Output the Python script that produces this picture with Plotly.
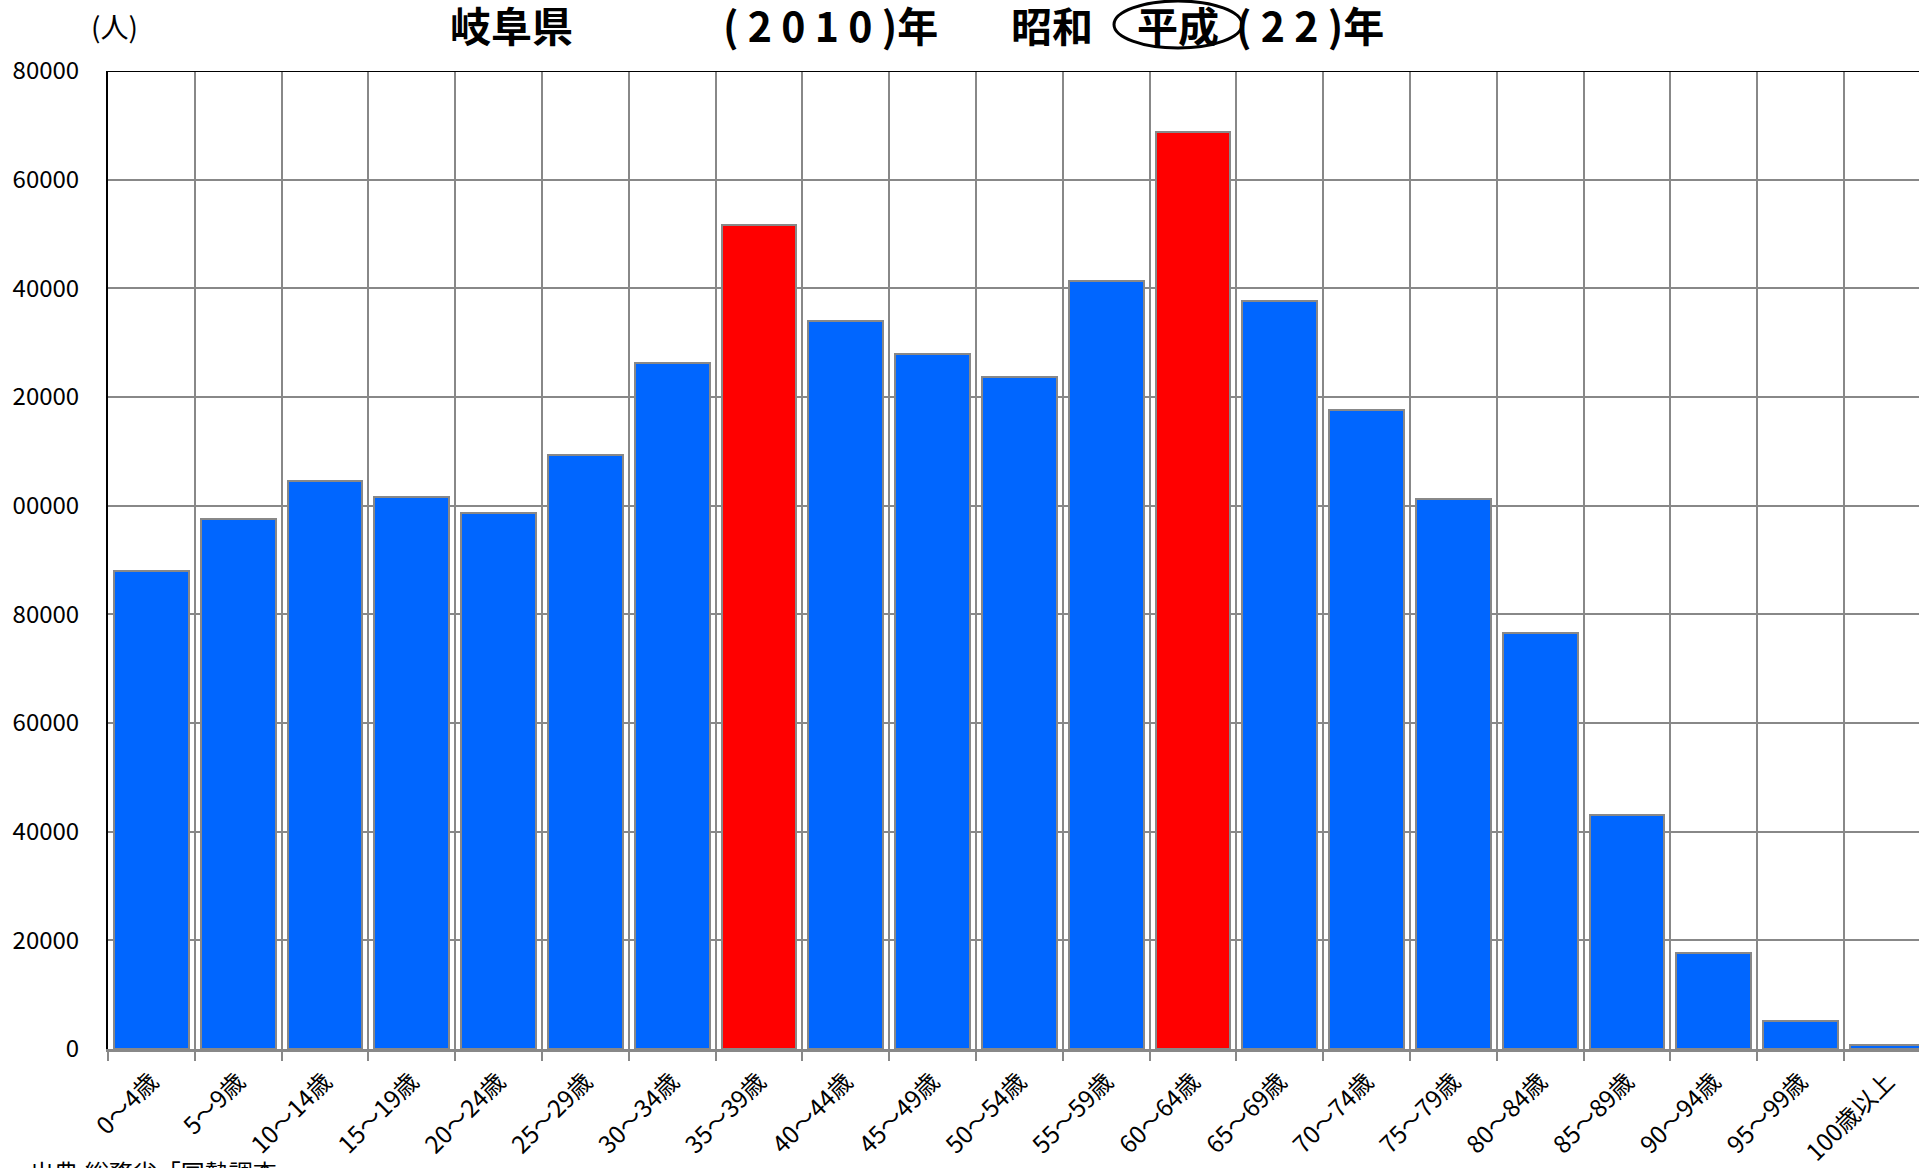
import plotly.graph_objects as go

categories = ["0〜4歳", "5〜9歳", "10〜14歳", "15〜19歳", "20〜24歳", "25〜29歳",
              "30〜34歳", "35〜39歳", "40〜44歳", "45〜49歳", "50〜54歳", "55〜59歳",
              "60〜64歳", "65〜69歳", "70〜74歳", "75〜79歳", "80〜84歳", "85〜89歳",
              "90〜94歳", "95〜99歳", "100歳以上"]
population = [88000, 97500, 104500, 101600, 98700, 109300, 126300, 151700, 133900,
              128000, 123700, 141400, 168800, 137600, 117700, 101300, 76600, 43100,
              17600, 5200, 700]
highlighted = ["35〜39歳", "60〜64歳"]
y_tickvals = [0, 20000, 40000, 60000, 80000, 100000, 120000, 140000, 160000, 180000]
y_ticktext = ["0", "20000", "40000", "60000", "80000", "00000", "20000", "40000", "60000", "80000"]

FONT = "Noto Sans CJK JP"
W, H = 1919, 1168
L, T, B = 108, 71, 119
PW = W - L
PH = H - T - B

def px(x):
    return (x - L) / PW

def py(y):
    return (H - B - y) / PH

colors = ["#FF0000" if c in highlighted else "#0066FF" for c in categories]

fig = go.Figure(go.Bar(
    x=categories, y=population,
    marker=dict(color=colors, line=dict(color="#888888", width=2)),
    width=0.86,
))

fig.update_layout(
    width=W, height=H,
    margin=dict(l=L, r=0, t=T, b=B),
    plot_bgcolor="white", paper_bgcolor="white",
    showlegend=False,
    font=dict(family=FONT, color="black"),
    bargap=0,
)

fig.update_xaxes(
    type="category",
    range=[-0.5, -0.5 + PW / 86.8],
    tickson="boundaries",
    showgrid=True, gridcolor="#888888", gridwidth=2,
    showline=True, linecolor="#888888", linewidth=3,
    ticks="outside", ticklen=9, tickcolor="#888888", tickwidth=2,
    tickangle=-45,
    ticklabelstandoff=6,
    tickfont=dict(size=24, family=FONT),
)

fig.update_yaxes(
    range=[0, 180000],
    tickvals=y_tickvals, ticktext=y_ticktext,
    showgrid=True, gridcolor="#888888", gridwidth=2,
    showline=True, linecolor="black", linewidth=2,
    ticks="outside", ticklen=22, tickcolor="rgba(0,0,0,0)",
    tickfont=dict(size=24, family=FONT),
    zeroline=False,
)

fig.add_shape(type="line", xref="paper", yref="y", x0=0, x1=1, y0=180000, y1=180000,
              line=dict(color="black", width=2))

# title pieces
ty = py(24)
title_parts = [
    ("(人)", 114, 28, False),
    ("岐阜県", 511, 41, True),
    ("( 2 0 1 0 )年", 830, 41, True),
    ("昭和", 1052, 41, True),
    ("平成", 1178, 41, True),
    ("( 2 2 )年", 1310, 41, True),
]
for text, x, size, bold in title_parts:
    fig.add_annotation(
        text=f"<b>{text}</b>" if bold else text,
        xref="paper", yref="paper", x=px(x), y=ty if size > 30 else py(26),
        xanchor="center", yanchor="middle", showarrow=False,
        font=dict(size=size, family=FONT, color="black"),
    )

fig.add_shape(type="circle", xref="paper", yref="paper",
              x0=px(1114), x1=px(1242), y0=py(48), y1=py(1),
              line=dict(color="black", width=3))

fig.add_annotation(
    text="出典:総務省「国勢調査」",
    xref="paper", yref="paper", x=px(28), y=py(1152),
    xanchor="left", yanchor="top", showarrow=False,
    font=dict(size=24, family=FONT, color="black"),
)

fig.write_html("out.html",
               config={"displayModeBar": False},
               post_script="document.body.style.margin='0';document.body.style.overflow='hidden';")
